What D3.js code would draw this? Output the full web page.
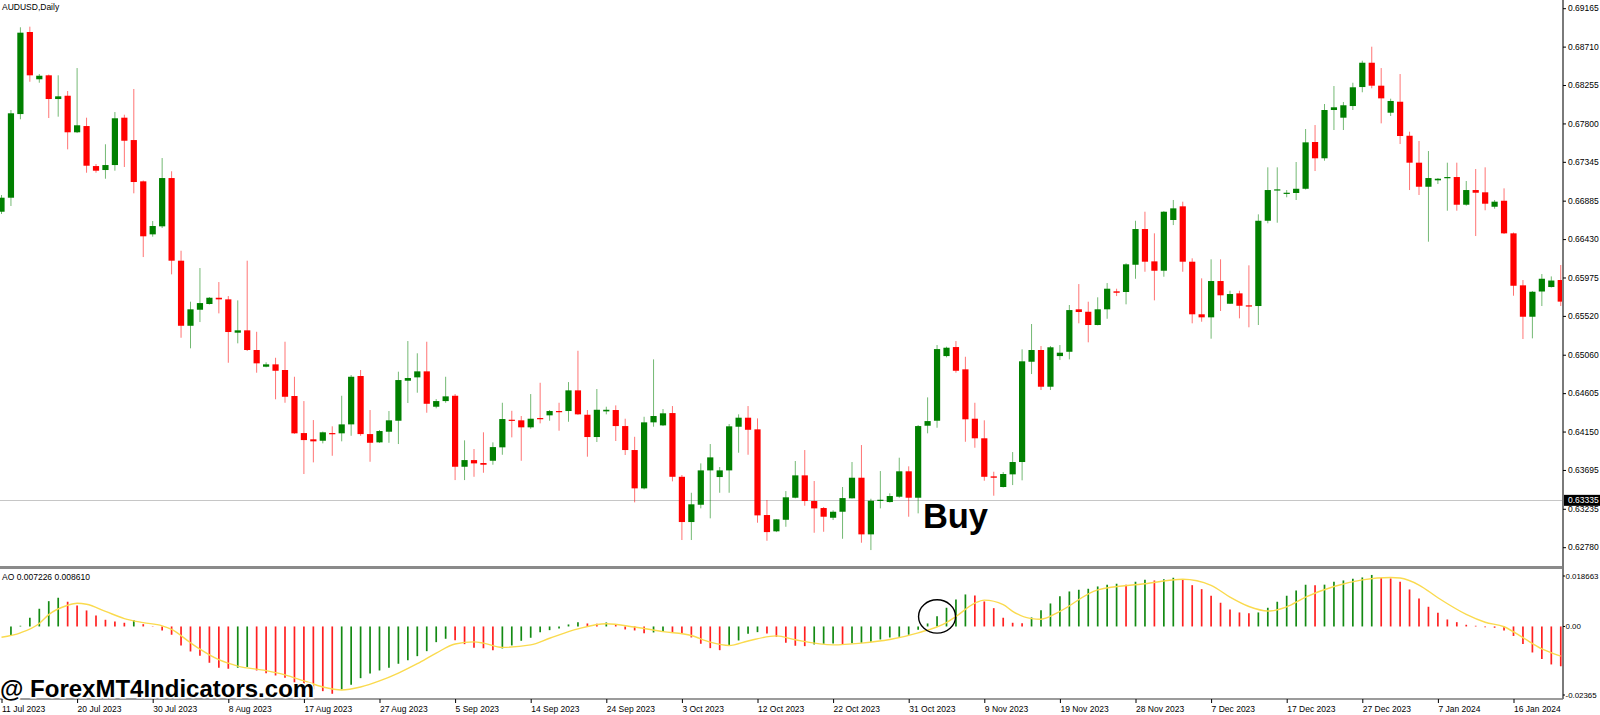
<!DOCTYPE html>
<html>
<head>
<meta charset="utf-8">
<script src="https://cdn.jsdelivr.net/npm/d3@7"></script>
<style>
  html, body { margin: 0; padding: 0; background: #fff; }
  svg { display: block; font-family: "Liberation Sans", Arial, sans-serif; }
</style>
</head>
<body>
<div id="chart"></div>
<script>
// AUDUSD daily bars (oldest first)
const open = [
  0.66754, 0.66920, 0.67911, 0.68883, 0.68323, 0.68370, 0.68089, 0.68128, 0.67695, 0.67769,
  0.67295, 0.67248, 0.67307, 0.67868, 0.67603, 0.67114, 0.66486, 0.66581, 0.67153, 0.66174,
  0.65403, 0.65593, 0.65661, 0.65735, 0.65716, 0.65321, 0.65349, 0.65116, 0.64918, 0.64946,
  0.64879, 0.64571, 0.64132, 0.64058, 0.64041, 0.64132, 0.64129, 0.64235, 0.64808, 0.64120,
  0.64022, 0.64148, 0.64278, 0.64752, 0.64792, 0.64863, 0.64444, 0.64511, 0.64574, 0.63733,
  0.63812, 0.63777, 0.63804, 0.63963, 0.64290, 0.64283, 0.64200, 0.64310, 0.64342, 0.64393,
  0.64393, 0.64638, 0.64349, 0.64085, 0.64389, 0.64405, 0.64215, 0.63931, 0.63477, 0.64259,
  0.64223, 0.64369, 0.63614, 0.63078, 0.63283, 0.63690, 0.63611, 0.63690, 0.64207, 0.64314,
  0.64176, 0.63161, 0.62968, 0.63105, 0.63366, 0.63631, 0.63327, 0.63244, 0.63129, 0.63200,
  0.63359, 0.63603, 0.62932, 0.63330, 0.63315, 0.63378, 0.63679, 0.63366, 0.64219, 0.64278,
  0.65044, 0.65151, 0.64887, 0.64302, 0.64070, 0.63619, 0.63493, 0.63643, 0.63789, 0.64977,
  0.65116, 0.64681, 0.65044, 0.65095, 0.65598, 0.65569, 0.65412, 0.65598, 0.65811, 0.65803,
  0.66126, 0.66549, 0.66166, 0.66055, 0.66656, 0.66818, 0.66162, 0.65539, 0.65503, 0.65933,
  0.65664, 0.65787, 0.65645, 0.65637, 0.66647, 0.67008, 0.66967, 0.66976, 0.67026, 0.67580,
  0.67387, 0.67959, 0.67868, 0.68006, 0.68231, 0.68519, 0.68247, 0.67927, 0.68057, 0.67654,
  0.67335, 0.67050, 0.67126, 0.67153, 0.67165, 0.66837, 0.67011, 0.66984, 0.66813, 0.66884,
  0.66498, 0.65882, 0.65510, 0.65809, 0.65862, 0.65945
];
const high = [
  0.66952, 0.67959, 0.68939, 0.68946, 0.68385, 0.68379, 0.68370, 0.68184, 0.68456, 0.67868,
  0.67319, 0.67553, 0.67935, 0.67903, 0.68208, 0.67124, 0.66644, 0.67390, 0.67233, 0.66292,
  0.65688, 0.66087, 0.65743, 0.65921, 0.65755, 0.65704, 0.66174, 0.65332, 0.64970, 0.65024,
  0.65214, 0.64799, 0.64511, 0.64286, 0.64150, 0.64212, 0.64574, 0.64819, 0.64879, 0.64405,
  0.64168, 0.64393, 0.64859, 0.65222, 0.65077, 0.65214, 0.64535, 0.64799, 0.64594, 0.64046,
  0.63943, 0.64141, 0.64022, 0.64491, 0.64396, 0.64334, 0.64594, 0.64728, 0.64405, 0.64491,
  0.64736, 0.65107, 0.64405, 0.64654, 0.64444, 0.64460, 0.64302, 0.64088, 0.64325, 0.65005,
  0.64417, 0.64452, 0.63635, 0.63425, 0.63773, 0.64002, 0.63730, 0.64239, 0.64354, 0.64452,
  0.64306, 0.63339, 0.63113, 0.63445, 0.63801, 0.63931, 0.63564, 0.63256, 0.63217, 0.63493,
  0.63789, 0.63990, 0.63354, 0.63682, 0.63418, 0.63840, 0.63738, 0.64227, 0.64555, 0.65175,
  0.65155, 0.65222, 0.65036, 0.64491, 0.64283, 0.63674, 0.63670, 0.63907, 0.65124, 0.65424,
  0.65163, 0.65163, 0.65175, 0.65649, 0.65897, 0.65688, 0.65740, 0.65909, 0.65842, 0.66143,
  0.66647, 0.66754, 0.66498, 0.66762, 0.66893, 0.66873, 0.66202, 0.65965, 0.66190, 0.66190,
  0.65818, 0.65818, 0.66119, 0.66723, 0.67280, 0.67280, 0.67011, 0.67343, 0.67734, 0.67781,
  0.68030, 0.68243, 0.68054, 0.68282, 0.68543, 0.68709, 0.68456, 0.68093, 0.68385, 0.67702,
  0.67592, 0.67473, 0.67153, 0.67335, 0.67335, 0.67118, 0.67260, 0.67280, 0.66893, 0.67031,
  0.66508, 0.65945, 0.65815, 0.66016, 0.65988, 0.66123
];
const low = [
  0.66727, 0.66822, 0.67849, 0.68294, 0.68282, 0.67864, 0.67880, 0.67493, 0.67686, 0.67216,
  0.67216, 0.67145, 0.67240, 0.67284, 0.66972, 0.66217, 0.66458, 0.66561, 0.66012, 0.65261,
  0.65136, 0.65447, 0.65655, 0.65550, 0.64965, 0.65195, 0.65104, 0.64847, 0.64911, 0.64532,
  0.64491, 0.64123, 0.63647, 0.63785, 0.64010, 0.63863, 0.64034, 0.64100, 0.64100, 0.63792,
  0.64016, 0.64017, 0.64002, 0.64488, 0.64610, 0.64373, 0.64425, 0.64491, 0.63575, 0.63575,
  0.63614, 0.63662, 0.63757, 0.63875, 0.64081, 0.63804, 0.64183, 0.64247, 0.64278, 0.64160,
  0.64266, 0.64348, 0.63852, 0.64026, 0.64354, 0.64038, 0.63872, 0.63311, 0.63465, 0.64207,
  0.64215, 0.63560, 0.62865, 0.62865, 0.63240, 0.63122, 0.63425, 0.63425, 0.63899, 0.63875,
  0.63070, 0.62856, 0.62959, 0.63022, 0.63359, 0.63271, 0.62951, 0.62963, 0.63102, 0.62880,
  0.63356, 0.62833, 0.62746, 0.63240, 0.63309, 0.63366, 0.63141, 0.63181, 0.64129, 0.64195,
  0.65029, 0.64847, 0.64029, 0.63958, 0.63567, 0.63390, 0.63487, 0.63516, 0.63572, 0.64831,
  0.64642, 0.64642, 0.64997, 0.65005, 0.65432, 0.65207, 0.65408, 0.65486, 0.65755, 0.65657,
  0.65960, 0.66043, 0.65704, 0.65984, 0.66596, 0.66043, 0.65432, 0.65451, 0.65250, 0.65578,
  0.65661, 0.65491, 0.65385, 0.65412, 0.66617, 0.66624, 0.66925, 0.66893, 0.67017, 0.67236,
  0.67358, 0.67722, 0.67722, 0.67959, 0.68169, 0.68216, 0.67801, 0.67888, 0.67556, 0.67011,
  0.66952, 0.66399, 0.67082, 0.66766, 0.66766, 0.66825, 0.66466, 0.66771, 0.66790, 0.66490,
  0.65759, 0.65246, 0.65254, 0.65637, 0.65856, 0.65637
];
const close = [
  0.66920, 0.67920, 0.68875, 0.68370, 0.68365, 0.68089, 0.68121, 0.67695, 0.67778, 0.67299,
  0.67240, 0.67307, 0.67861, 0.67595, 0.67106, 0.66463, 0.66585, 0.67153, 0.66174, 0.65403,
  0.65598, 0.65672, 0.65735, 0.65716, 0.65329, 0.65349, 0.65116, 0.64958, 0.64946, 0.64870,
  0.64562, 0.64129, 0.64049, 0.64034, 0.64141, 0.64120, 0.64235, 0.64799, 0.64120, 0.64017,
  0.64156, 0.64283, 0.64760, 0.64784, 0.64863, 0.64479, 0.64511, 0.64567, 0.63733, 0.63812,
  0.63773, 0.63757, 0.63966, 0.64298, 0.64278, 0.64200, 0.64302, 0.64298, 0.64393, 0.64385,
  0.64638, 0.64354, 0.64085, 0.64408, 0.64408, 0.64215, 0.63931, 0.63477, 0.64259, 0.64334,
  0.64366, 0.63614, 0.63078, 0.63288, 0.63690, 0.63844, 0.63690, 0.64212, 0.64314, 0.64171,
  0.63157, 0.62959, 0.63110, 0.63371, 0.63631, 0.63327, 0.63240, 0.63141, 0.63200, 0.63362,
  0.63603, 0.62932, 0.63330, 0.63342, 0.63386, 0.63679, 0.63366, 0.64215, 0.64274, 0.65127,
  0.65143, 0.64870, 0.64295, 0.64070, 0.63614, 0.63603, 0.63647, 0.63789, 0.64982, 0.65116,
  0.64681, 0.65148, 0.65084, 0.65589, 0.65566, 0.65412, 0.65598, 0.65842, 0.65794, 0.66131,
  0.66549, 0.66162, 0.66055, 0.66754, 0.66794, 0.66162, 0.65539, 0.65503, 0.65933, 0.65764,
  0.65779, 0.65640, 0.65633, 0.66647, 0.67011, 0.67019, 0.66979, 0.67026, 0.67576, 0.67387,
  0.67959, 0.67991, 0.68015, 0.68228, 0.68519, 0.68247, 0.68097, 0.68066, 0.67651, 0.67335,
  0.67050, 0.67153, 0.67145, 0.67165, 0.66837, 0.67011, 0.66979, 0.66849, 0.66873, 0.66498,
  0.65877, 0.65510, 0.65806, 0.65960, 0.65939, 0.65689
];

// Awesome Oscillator histogram, one value per bar (first bar not visible)
const aoValues = [
  null, -0.00298, 0.00023, 0.00288, 0.00585, 0.00836, 0.00949, 0.00817, 0.00694, 0.00529,
  0.00364, 0.00221, 0.00165, 0.00122, 0.00208, 0.00076, -0.0001, -0.00132, -0.00274, -0.00628,
  -0.00827, -0.00969, -0.012, -0.01365, -0.01398, -0.01365, -0.01339, -0.01455, -0.01544, -0.0162,
  -0.01696, -0.01861, -0.01993, -0.02083, -0.02139, -0.02225, -0.02083, -0.01927, -0.01709, -0.01554,
  -0.01455, -0.01365, -0.01233, -0.01114, -0.00982, -0.00817, -0.00519, -0.00407, -0.00453, -0.00585,
  -0.00704, -0.00721, -0.00784, -0.00727, -0.00628, -0.00473, -0.00374, -0.00188, -0.00122, -0.00066,
  0.00066, 0.00142, 0.00099, 0.00093, 0.00132, 0.00076, -0.00099, -0.00132, -0.00221, -0.00198,
  -0.00172, -0.00185, -0.00231, -0.00364, -0.00572, -0.00717, -0.00784, -0.00618, -0.00463, -0.00241,
  -0.00188, -0.00231, -0.00341, -0.00539, -0.00638, -0.00651, -0.00595, -0.00572, -0.00562, -0.00595,
  -0.00552, -0.00539, -0.00506, -0.0043, -0.00364, -0.00341, -0.00274, -0.00109, 0.00099, 0.00341,
  0.00618, 0.00893, 0.01058, 0.01025, 0.00827, 0.00605, 0.00288, 0.00122, 0.00109, 0.00298,
  0.00539, 0.0076, 0.01002, 0.01157, 0.01213, 0.01246, 0.01322, 0.01379, 0.01412, 0.01379,
  0.01478, 0.01544, 0.01521, 0.01564, 0.0161, 0.01554, 0.01365, 0.01233, 0.01015, 0.00784,
  0.00562, 0.00463, 0.0044, 0.00463, 0.00618, 0.00817, 0.01015, 0.0119, 0.01379, 0.01365,
  0.01382, 0.01478, 0.01521, 0.01577, 0.0162, 0.01703, 0.01603, 0.01587, 0.01478, 0.01223,
  0.00926, 0.00651, 0.00453, 0.00231, 0.00142, 0.00056, 0.00023, -0.00023, -0.00043, -0.00132,
  -0.00314, -0.00579, -0.0086, -0.01074, -0.01256, -0.01316
];

// yellow signal line, read at these bars
const signalBars = [
  0, 2, 4, 5, 7, 8, 9, 11, 13, 15, 17, 18, 20, 21, 23, 25, 28, 30, 32, 34,
  36, 38, 40, 42, 44, 46, 48, 50, 51, 53, 56, 58, 61, 64, 67, 70, 73, 75, 77, 79,
  82, 84, 88, 91, 94, 97, 100, 101, 103, 104, 106, 107, 109, 110, 112, 116, 121, 125, 128, 130,
  132, 134, 136, 138, 141, 144, 147, 148, 150, 152, 155, 157, 159, 161, 163, 165
];
const signalValues = [
  -0.00357, -0.0021, 0.0010, 0.0039, 0.0070, 0.00767, 0.00734, 0.0050, 0.0026, 0.00126,
  0.0002, -0.0010, -0.0054, -0.0075, -0.0110, -0.0131, -0.0146, -0.0160, -0.0180, -0.0200,
  -0.0210, -0.0200, -0.0180, -0.0154, -0.0123, -0.0088, -0.0058, -0.0051, -0.0055, -0.0069,
  -0.0061, -0.0039, -0.0008, 0.0009, -0.0002, -0.0017, -0.0030, -0.0052, -0.0063, -0.0048,
  -0.0031, -0.0044, -0.0061, -0.0055, -0.0043, -0.0021, 0.0013, 0.0033, 0.0077, 0.0087,
  0.0072, 0.0050, 0.0026, 0.0024, 0.0050, 0.0121, 0.0141, 0.0156, 0.0136, 0.0097,
  0.0066, 0.0051, 0.0065, 0.0097, 0.0132, 0.0154, 0.0162, 0.0160, 0.0137, 0.0095,
  0.0040, 0.0014, -0.0001, -0.0037, -0.0074, -0.0098
];

// axis labels
const priceTicks = [0.69165, 0.68710, 0.68255, 0.67800, 0.67345, 0.66885, 0.66430, 0.65975,
                    0.65520, 0.65060, 0.64605, 0.64150, 0.63695, 0.63235, 0.62780];
const dateLabels = ["11 Jul 2023", "20 Jul 2023", "30 Jul 2023", "8 Aug 2023", "17 Aug 2023",
                    "27 Aug 2023", "5 Sep 2023", "14 Sep 2023", "24 Sep 2023", "3 Oct 2023",
                    "12 Oct 2023", "22 Oct 2023", "31 Oct 2023", "9 Nov 2023", "19 Nov 2023",
                    "28 Nov 2023", "7 Dec 2023", "17 Dec 2023", "27 Dec 2023", "7 Jan 2024",
                    "16 Jan 2024"];
const dateStep = 8; // one label every 8 bars
const aoTicks = [0.018663, 0, -0.02365];
const aoTickLabels = ["0.018663", "0.00", "-0.02365"];
const lastPrice = 0.63335;

// annotations
const buyBar = 97.5, buyPrice = 0.63010;
const circleBar = 99, circleValue = 0.0033;

const W = 1600, H = 715;
const axisX = 1563;
const mainBottom = 566;
const aoTop = 570, aoBottom = 698;
const dateAxisY = 699;
const labelSize = 8.5;

const bull = "#008000", bear = "#ff0000";

const svg = d3.select("#chart")
    .append("svg")
    .attr("width", W)
    .attr("height", H);

const defs = svg.append("defs");
defs.append("clipPath").attr("id", "clipMain")
    .append("rect").attr("x", 0).attr("y", 0).attr("width", axisX).attr("height", mainBottom);
defs.append("clipPath").attr("id", "clipAO")
    .append("rect").attr("x", 0).attr("y", 569).attr("width", axisX).attr("height", dateAxisY - 569);

// scales
const x = d3.scaleLinear()
    .domain([0, open.length - 1])
    .range([1.5, 1.5 + 9.45 * (open.length - 1)]);

const y = d3.scaleLinear()
    .domain([0.62780, 0.69165])
    .range([547.2, 8.2]);

const yAO = d3.scaleLinear()
    .domain([-0.02365, 0.018663])
    .range([aoBottom, aoTop]);

const bars = open.map((o, i) => ({ i, o, h: high[i], l: low[i], c: close[i] }));

// current price line
svg.append("line")
    .attr("x1", 0).attr("x2", axisX)
    .attr("y1", Math.round(y(lastPrice)) + 0.5).attr("y2", Math.round(y(lastPrice)) + 0.5)
    .attr("stroke", "#c6c6c6");

// candles
const candles = svg.append("g").attr("clip-path", "url(#clipMain)");

candles.selectAll("line.wick")
    .data(bars)
    .enter()
    .append("line")
    .attr("class", "wick")
    .attr("x1", d => x(d.i)).attr("x2", d => x(d.i))
    .attr("y1", d => y(d.h)).attr("y2", d => y(d.l))
    .attr("stroke", d => d.c >= d.o ? bull : bear)
    .attr("stroke-opacity", 0.55)
    .attr("stroke-width", 1);

const bodyW = 6.2;
candles.selectAll("rect.body")
    .data(bars)
    .enter()
    .append("rect")
    .attr("class", "body")
    .attr("x", d => x(d.i) - bodyW / 2)
    .attr("width", bodyW)
    .attr("y", d => y(Math.max(d.o, d.c)))
    .attr("height", d => Math.max(1.2, Math.abs(y(d.o) - y(d.c))))
    .attr("fill", d => d.c >= d.o ? bull : bear);

// AO histogram, green when the bar rises
const aoData = aoValues.map((v, i) => ({ i, v, prev: i > 0 ? aoValues[i - 1] : null }))
    .filter(d => d.v !== null);

const ao = svg.append("g").attr("clip-path", "url(#clipAO)");

ao.selectAll("line.ao")
    .data(aoData)
    .enter()
    .append("line")
    .attr("class", "ao")
    .attr("x1", d => x(d.i)).attr("x2", d => x(d.i))
    .attr("y1", yAO(0)).attr("y2", d => yAO(d.v))
    .attr("stroke", d => (d.prev === null || d.v > d.prev) ? "#138a13" : "#ff2020")
    .attr("stroke-width", 1.7);

const signal = d3.line()
    .x(d => x(d[0]))
    .y(d => yAO(d[1]))
    .curve(d3.curveMonotoneX);

ao.append("path")
    .datum(signalBars.map((b, k) => [b, signalValues[k]]))
    .attr("d", signal)
    .attr("fill", "none")
    .attr("stroke", "#fada4e")
    .attr("stroke-width", 1.4);

// circle around the first bars above zero
svg.append("ellipse")
    .attr("cx", x(circleBar))
    .attr("cy", yAO(circleValue))
    .attr("rx", 18.5)
    .attr("ry", 16.7)
    .attr("fill", "none")
    .attr("stroke", "#000")
    .attr("stroke-width", 1.4);

// frame lines
svg.append("rect")
    .attr("x", 0).attr("y", 566).attr("width", axisX).attr("height", 3)
    .attr("fill", "#8a8a8a");
svg.append("line")
    .attr("x1", axisX).attr("x2", axisX).attr("y1", 0).attr("y2", dateAxisY)
    .attr("stroke", "#7a7a7a").attr("stroke-width", 2);
svg.append("line")
    .attr("x1", 0).attr("x2", axisX).attr("y1", dateAxisY).attr("y2", dateAxisY)
    .attr("stroke", "#7a7a7a").attr("stroke-width", 1.5);

// price axis
const priceAxis = svg.append("g")
    .attr("transform", `translate(${axisX},0)`)
    .call(d3.axisRight(y)
        .tickValues(priceTicks)
        .tickSize(3)
        .tickPadding(2)
        .tickFormat(d3.format(".5f")));
priceAxis.select(".domain").remove();
priceAxis.selectAll("text").attr("font-size", labelSize).attr("fill", "#000")
    .attr("font-family", "Liberation Sans, Arial, sans-serif");
priceAxis.selectAll("line").attr("stroke", "#000");

// last price box
const lp = y(lastPrice);
svg.append("rect")
    .attr("x", axisX + 1).attr("y", lp - 5.5).attr("width", W - axisX - 1).attr("height", 11)
    .attr("fill", "#000");
svg.append("text")
    .attr("x", axisX + 5).attr("y", lp + 3)
    .attr("font-size", labelSize).attr("fill", "#fff")
    .text(d3.format(".5f")(lastPrice));

// AO axis labels (top and bottom labels sit just inside the pane)
const aoLabelY = (d, k) => yAO(d) + (k === 0 ? 6 : k === 2 ? -3 : 0);
const aoAxis = svg.append("g");
aoAxis.selectAll("line")
    .data(aoTicks)
    .enter()
    .append("line")
    .attr("x1", axisX).attr("x2", axisX + 2)
    .attr("y1", aoLabelY)
    .attr("y2", aoLabelY)
    .attr("stroke", "#000");
aoAxis.selectAll("text")
    .data(aoTicks)
    .enter()
    .append("text")
    .attr("x", axisX + 2.5)
    .attr("y", (d, k) => aoLabelY(d, k) + 3)
    .attr("font-size", 7.9)
    .attr("fill", "#000")
    .text((d, k) => aoTickLabels[k]);

// date axis
const dateAxis = svg.append("g")
    .attr("transform", `translate(0,${dateAxisY})`)
    .call(d3.axisBottom(x)
        .tickValues(dateLabels.map((d, k) => k * dateStep))
        .tickSize(4)
        .tickFormat((d, k) => dateLabels[k]));
dateAxis.select(".domain").remove();
dateAxis.selectAll("line").attr("stroke", "#000");
dateAxis.selectAll("text")
    .attr("font-size", labelSize)
    .attr("fill", "#000")
    .attr("font-family", "Liberation Sans, Arial, sans-serif")
    .attr("text-anchor", "start")
    .attr("y", 6.5)
    .attr("dy", "0.71em");

// titles
svg.append("text")
    .attr("x", 2).attr("y", 9.5)
    .attr("font-size", labelSize).attr("fill", "#000")
    .text("AUDUSD,Daily");
svg.append("text")
    .attr("x", 2).attr("y", 579.5)
    .attr("font-size", labelSize).attr("fill", "#000")
    .text("AO 0.007226 0.008610");

// Buy annotation
svg.append("text")
    .attr("x", x(buyBar)).attr("y", y(buyPrice))
    .attr("font-size", 34.5)
    .attr("font-weight", "bold")
    .attr("fill", "#000")
    .text("Buy");

// watermark
svg.append("text")
    .attr("x", 0).attr("y", 697)
    .attr("font-size", 24)
    .attr("font-weight", "bold")
    .attr("fill", "#000")
    .attr("stroke", "#fff")
    .attr("stroke-width", 3)
    .attr("paint-order", "stroke")
    .text("@ ForexMT4Indicators.com");
</script>
</body>
</html>
